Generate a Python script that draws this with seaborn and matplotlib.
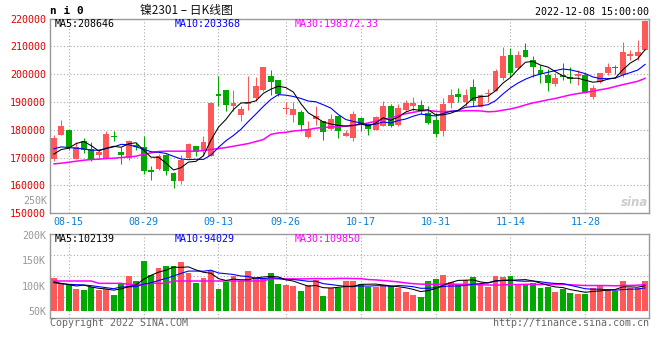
import numpy as np
import pandas as pd
import matplotlib
matplotlib.use("Agg")
import matplotlib.pyplot as plt
import seaborn as sns

# daily K line of ni2301, 08-11 .. 12-08 (80 sessions)
open_ = [169570, 178320, 180110, 169690, 176160, 173170, 171130, 169690, 177960, 172210,
         169810, 174600, 173880, 165500, 166100, 170890, 164540, 161540, 169810, 174360,
         172330, 170530, 192810, 194490, 188500, 185500, 189340, 191490, 194490, 199280,
         198080, 187420, 185500, 186340, 177360, 184070, 183110, 180350, 184910, 177960,
         177000, 184190, 182270, 179870, 181550, 188500, 181790, 187060, 188500, 189100,
         186100, 183710, 179450, 189790, 192900, 190150, 195530, 188110, 192780, 194090,
         198760, 206890, 202110, 208680, 205100, 201510, 199710, 196490, 199710, 199120,
         199360, 199710, 191940, 197080, 200310, 202350, 199710, 206650, 206650, 208680]
high = [178320, 183710, 180110, 175560, 177120, 175560, 172930, 179750, 179510, 173880,
        176400, 175320, 177960, 167180, 171370, 171490, 164780, 171130, 175320, 174360,
        177720, 189940, 199520, 194490, 194490, 188500, 199280, 199040, 202700, 201440,
        198080, 189940, 189940, 187060, 183350, 188740, 183350, 185860, 184910, 180110,
        186700, 184550, 182510, 184910, 190300, 189340, 189340, 190780, 191730, 190780,
        188740, 186100, 191540, 194690, 194930, 194810, 198160, 192900, 194570, 201870,
        209640, 209520, 208450, 211320, 206530, 203300, 201750, 200550, 204140, 202700,
        201510, 200310, 196130, 200550, 204140, 203300, 211670, 208680, 212270, 219450]
low = [168730, 178320, 172930, 169690, 171730, 168970, 169690, 169690, 175920, 167770,
       169330, 172930, 164180, 162140, 165740, 163700, 159150, 160710, 169690, 170530,
       170530, 170530, 188500, 186700, 186700, 183110, 187300, 190540, 193890, 192450,
       192330, 185860, 182750, 179510, 177000, 181910, 176280, 180110, 177000, 177720,
       175920, 179750, 178320, 179870, 181310, 181070, 181310, 186700, 186940, 185860,
       182270, 177480, 177950, 187750, 190150, 188590, 188590, 188110, 190150, 193970,
       197920, 199120, 201750, 206290, 198880, 196720, 194090, 195770, 197920, 196720,
       196130, 193380, 190980, 196720, 199710, 200070, 199120, 205100, 205100, 208680]
close = [177120, 181550, 173880, 173880, 172690, 169690, 171970, 178680, 177480, 170890,
         175920, 173880, 165140, 165020, 170770, 165380, 161540, 169330, 175080, 172090,
         175560, 189700, 192330, 189100, 189700, 187540, 190060, 195690, 202700, 197130,
         192810, 187660, 187660, 181910, 180470, 184910, 179160, 184070, 179510, 179040,
         185860, 182270, 180350, 184790, 188500, 181310, 187780, 189580, 189580, 186700,
         182510, 178680, 189440, 192540, 191700, 192540, 190510, 192420, 193380, 201270,
         206530, 200550, 206890, 206290, 202700, 200070, 196960, 198520, 198880, 198400,
         200070, 193380, 194930, 200310, 202470, 202110, 208090, 207130, 208090, 219090]
volume = [115700, 104600, 100600, 92700, 92000, 97300, 91400, 94000, 80900, 104600,
          119000, 109200, 148600, 121000, 135400, 138800, 138800, 146600, 125600, 105200,
          115700, 128900, 94000, 107200, 119000, 109200, 128900, 112500, 115700, 125000,
          103900, 101300, 99300, 89400, 101300, 110500, 79600, 96000, 96000, 109200,
          109200, 102600, 97300, 97300, 100600, 99300, 94700, 87500, 81600, 78300,
          109200, 113800, 121000, 107200, 100600, 111100, 117100, 100600, 97300, 119000,
          117100, 119000, 103900, 100600, 105900, 96000, 97300, 87500, 94000, 86100,
          82900, 84100, 96000, 99300, 94000, 89400, 109200, 96000, 96000, 109200]

# moving-average values at the left edge (history before the window)
ma5_head = [171250, 172930, 173400, 175080]
ma10_head = [173160, 173880, 173640, 173400, 173160, 172690, 172690, 173290, 173880]
ma30_head = [167770, 168010, 168370, 168730, 169090, 169330, 169450, 169690, 169810, 170050,
             170290, 170530, 171250, 171730, 172210, 172330, 172330, 172330, 172330, 172330,
             172570, 172930, 173290, 173650, 174120, 174600, 175080, 175800, 176520]
vma5_head = [107200, 104600, 102000, 99300]
vma10_head = [105900, 103900, 102600, 102000, 101300, 100000, 98000, 96000, 94000]
vma30_head = [109200, 109200, 109200, 109200, 109200, 109200, 104600, 104600, 104600, 104600,
              102600, 102600, 102600, 104600, 104600, 104600, 109200, 109200, 109200, 109200,
              109200, 109200, 109200, 109200, 109200, 109200, 109200, 109200, 109200]

date_idx = [2, 12, 22, 31, 41, 51, 61, 71]
date_labels = ["08-15", "08-29", "09-13", "09-26", "10-17", "10-31", "11-14", "11-28"]
price_ticks = [150000, 160000, 170000, 180000, 190000, 200000, 210000, 220000]
vol_ticks = [50000, 100000, 150000, 200000]
vol_tick_labels = ["50K", "100K", "150K", "200K"]

RED = "#ff5858"
GREEN = "#00a800"
GRID = "#aaaaaa"
FRAME = "#999999"

sns.set_theme(style="white")
plt.rcParams["font.family"] = ["DejaVu Sans Mono", "Noto Sans CJK SC"]

W, H = 660, 360
fig = plt.figure(figsize=(W / 100, H / 100), dpi=100)


def box(l, t, r, b):
    return [l / W, 1 - b / H, (r - l) / W, (b - t) / H]


def ftext(x, y, s, **kw):
    fig.text(x / W, 1 - y / H, s, **kw)


ax = fig.add_axes(box(50, 18.6, 649, 213.3))
axv = fig.add_axes(box(50, 234.3, 649, 318))

o = np.asarray(open_, float)
h = np.asarray(high, float)
l = np.asarray(low, float)
c = np.asarray(close, float)
v = np.asarray(volume, float)
idx = np.arange(len(c))
cols = np.where(c >= o, RED, GREEN)


def ma(vals, n, head):
    s = pd.Series(vals).rolling(n).mean()
    s.iloc[:len(head)] = head
    return s.values


# ---- price panel
ax.vlines(idx, l, h, colors=cols, lw=0.75, zorder=2)
ax.bar(idx, np.maximum(np.abs(c - o), 360), bottom=np.minimum(o, c), width=0.78,
       color=cols, linewidth=0, zorder=3)
for vals, n, head, col, lw in [(c, 30, ma30_head, "#ff00ff", 1.1),
                               (c, 10, ma10_head, "#0000ff", 0.8),
                               (c, 5, ma5_head, "black", 0.75)]:
    sns.lineplot(x=idx, y=ma(vals, n, head), ax=ax, color=col, lw=lw, zorder=4)

ax.set_xlim(-0.5, len(c) - 0.5)
ax.set_ylim(150000, 220000)
ax.set_yticks(price_ticks)
ax.set_yticklabels([str(t) for t in price_ticks])
ax.set_xticks(date_idx)
ax.set_xticklabels(date_labels)
ax.tick_params(axis="y", length=0, pad=3, labelsize=7.2, labelcolor="#e00000")
ax.tick_params(axis="x", length=0, pad=3, labelsize=7.2, labelcolor="#0a7fd5")
ax.grid(True, ls=(0, (1, 2)), color=GRID, lw=0.8, zorder=0)
ax.set_ylabel("")

ax.text(0.008, 0.972, "MA5:208646", transform=ax.transAxes, va="center", fontsize=7.2, color="black")
ax.text(0.2087, 0.972, "MA10:203368", transform=ax.transAxes, va="center", fontsize=7.2, color="#0000ff")
ax.text(0.409, 0.972, "MA30:198372.33", transform=ax.transAxes, va="center", fontsize=7.2, color="#ff00ff")

# ---- volume panel
vbase = 50000
axv.bar(idx, v - vbase, bottom=vbase, width=0.78, color=cols, linewidth=0, zorder=3)
for vals, n, head, col, lw in [(v, 30, vma30_head, "#ff00ff", 1.1),
                               (v, 10, vma10_head, "#0000ff", 0.8),
                               (v, 5, vma5_head, "black", 0.75)]:
    sns.lineplot(x=idx, y=ma(vals, n, head), ax=axv, color=col, lw=lw, zorder=4)

vlo, vhi = 36200, 201300
axv.set_xlim(-0.5, len(c) - 0.5)
axv.set_ylim(vlo, vhi)
axv.set_yticks(vol_ticks)
axv.set_yticklabels(vol_tick_labels)
axv.set_xticks(date_idx)
axv.set_xticklabels([])
axv.tick_params(axis="y", length=0, pad=3, labelsize=7.2, labelcolor=FRAME)
axv.tick_params(axis="x", length=0)
axv.grid(True, axis="x", ls=(0, (1, 2)), color=GRID, lw=0.8, zorder=0)
for f in (0.25, 0.5, 0.75):
    axv.axhline(vlo + f * (vhi - vlo), ls=(0, (1, 2)), color=GRID, lw=0.8, zorder=0)
axv.set_ylabel("")

axv.text(0.008, 0.947, "MA5:102139", transform=axv.transAxes, va="center", fontsize=7.2, color="black")
axv.text(0.2087, 0.947, "MA10:94029", transform=axv.transAxes, va="center", fontsize=7.2, color="#0000ff")
axv.text(0.409, 0.947, "MA30:109850", transform=axv.transAxes, va="center", fontsize=7.2, color="#ff00ff")

for a in (ax, axv):
    for sp in a.spines.values():
        sp.set_color(FRAME)
        sp.set_linewidth(1.0)

# ---- header / footer texts
ftext(50, 11.5, "n i 0", fontsize=8, fontweight="bold", va="center", color="black")
ftext(140, 10.5, "镍2301 – 日K线图", fontsize=8.5, va="center", color="#111111",
      family=["Noto Sans CJK SC", "DejaVu Sans"])
ftext(649, 12, "2022-12-08 15:00:00", fontsize=7.2, va="center", ha="right", color="black")
ftext(47, 200.7, "250K", fontsize=7.2, va="center", ha="right", color=FRAME)
ftext(635, 202, "sina", fontsize=8.5, va="center", ha="center", color="#cccccc",
      fontweight="bold", fontstyle="italic", family="DejaVu Sans")
ftext(50, 323.5, "Copyright 2022 SINA.COM", fontsize=7.2, va="center", color="#666666")
ftext(649, 323.5, "http://finance.sina.com.cn", fontsize=7.2, va="center", ha="right", color="#666666")

fig.savefig("out.png", dpi=100)
